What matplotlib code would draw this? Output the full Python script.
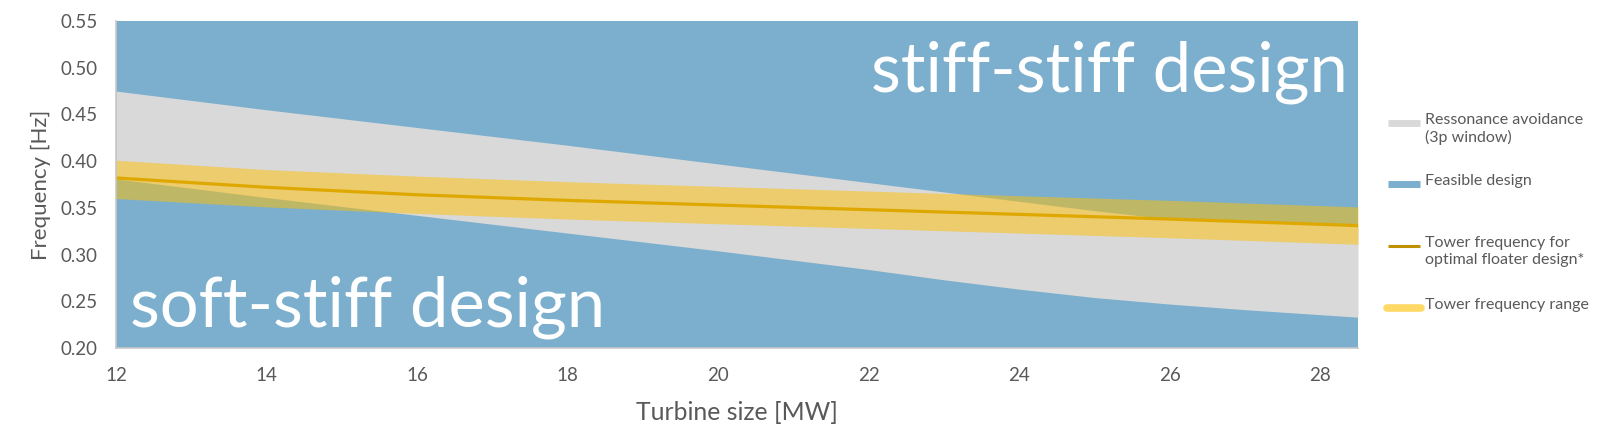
import matplotlib
matplotlib.use("Agg")
import matplotlib.pyplot as plt
from matplotlib.lines import Line2D
from matplotlib.ticker import FormatStrFormatter

plt.rcParams['font.family'] = ['Lato', 'DejaVu Sans']

# ---- data ----
turbine_mw = [12, 14, 16, 18, 20, 22, 24, 26, 28.5]
tower_freq = [0.382, 0.372, 0.364, 0.358, 0.353, 0.348, 0.343, 0.338, 0.331]
tower_hi = [0.401, 0.391, 0.384, 0.378, 0.373, 0.368, 0.363, 0.358, 0.351]
tower_lo = [0.360, 0.351, 0.344, 0.338, 0.333, 0.328, 0.323, 0.318, 0.311]

res_mw = [12, 14, 16, 18, 20, 21, 22, 23, 24, 25, 26, 27, 28.5]
res_hi = [0.475, 0.455, 0.436, 0.417, 0.397, 0.387, 0.377, 0.367, 0.357, 0.347, 0.338, 0.335, 0.331]
res_lo = [0.381, 0.361, 0.342, 0.323, 0.304, 0.294, 0.284, 0.273, 0.263, 0.254, 0.247, 0.241, 0.233]

x_ticks = [12, 14, 16, 18, 20, 22, 24, 26, 28]
y_ticks = [0.20, 0.25, 0.30, 0.35, 0.40, 0.45, 0.50, 0.55]

legend_labels = ["Ressonance avoidance\n(3p window)", "Feasible design",
                 "Tower frequency for\noptimal floater design*", "Tower frequency range"]

BLUE = '#7BAFCD'
GRAY = '#D9D9D9'
LINE = '#BF9000'
BAND = '#FFC000'
TXT = '#595959'

W, H = 1600, 447
fig = plt.figure(figsize=(W / 100, H / 100), dpi=100)
ax = fig.add_axes([116 / W, 1 - 348 / H, (1358 - 116) / W, (348 - 21) / H])
ax.set_facecolor(BLUE)

ax.fill_between(res_mw, res_lo, res_hi, color=GRAY, lw=0, zorder=1)
ax.plot(turbine_mw, tower_freq, color=LINE, lw=2.3, zorder=2)
ax.fill_between(turbine_mw, tower_lo, tower_hi, color=BAND, alpha=0.5, lw=0, zorder=3)

ax.set_xlim(12, 28.5)
ax.set_ylim(0.20, 0.55)
ax.set_xticks(x_ticks)
ax.set_yticks(y_ticks)
ax.yaxis.set_major_formatter(FormatStrFormatter('%.2f'))
ax.tick_params(axis='both', length=0, labelsize=13.5, labelcolor=TXT)
ax.tick_params(axis='y', pad=13)
ax.tick_params(axis='x', pad=14)
for s in ['top', 'right']:
    ax.spines[s].set_visible(False)
for s in ['left', 'bottom']:
    ax.spines[s].set_color('#C8C8C8')
    ax.spines[s].set_linewidth(1.2)
    ax.spines[s].set_zorder(5)

ax.set_xlabel("Turbine size [MW]", fontsize=17.8, color=TXT, labelpad=12)
ax.set_ylabel("Frequency [Hz]", fontsize=16, color=TXT, labelpad=7)

ax.text(22.03, 0.475, "stiff-stiff design", fontsize=49.5, color='white',
        ha='left', va='baseline', zorder=6)
ax.text(12.18, 0.2235, "soft-stiff design", fontsize=49.5, color='white',
        ha='left', va='baseline', zorder=6)

# ---- legend (manual, in pixel positions of the figure) ----
def fx(px):
    return px / W

def fy(py):
    return 1 - py / H

handles = [
    dict(color=GRAY, lw=5, cap='butt', x0=1388, x1=1420),
    dict(color=BLUE, lw=5, cap='butt', x0=1388, x1=1420),
    dict(color=LINE, lw=2.2, cap='butt', x0=1388, x1=1420),
    dict(color='#FFD966', lw=5.5, cap='round', x0=1387, x1=1421),
]
first_line_y = [123, 184, 246, 308]
for h, lab, yy in zip(handles, legend_labels, first_line_y):
    fig.add_artist(Line2D([fx(h['x0']), fx(h['x1'])], [fy(yy), fy(yy)],
                          color=h['color'], lw=h['lw'], solid_capstyle=h['cap'],
                          transform=fig.transFigure))
    fig.text(fx(1425), fy(yy - 10), lab, fontsize=11.5, color=TXT,
             ha='left', va='top', linespacing=1.25)

fig.savefig("out.png", dpi=100)
